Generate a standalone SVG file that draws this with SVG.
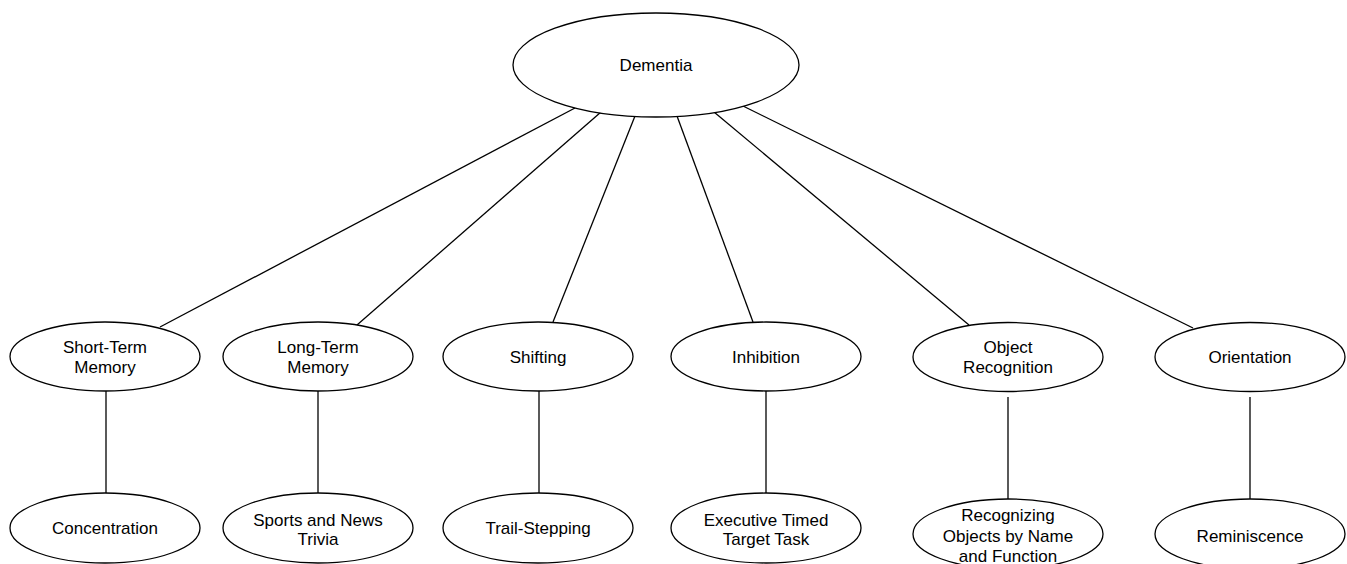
<svg xmlns="http://www.w3.org/2000/svg" width="1347" height="564" viewBox="0 0 1347 564">
<style>
  ellipse { fill: #ffffff; stroke: #000000; stroke-width: 1.3; }
  text { font-family: "Liberation Sans", Arial, sans-serif; font-size: 17px; fill: #000000; text-anchor: middle; }
  .conn line { stroke: #000000; stroke-width: 1.3; }
</style>
<rect x="0" y="0" width="1347" height="564" fill="#ffffff"/>
<g id="connectors" class="conn">
  <line x1="575" y1="108" x2="160" y2="327"/>
  <line x1="601" y1="112" x2="357" y2="325"/>
  <line x1="635" y1="116" x2="553" y2="322"/>
  <line x1="677" y1="116" x2="753" y2="322"/>
  <line x1="714" y1="112" x2="969" y2="325"/>
  <line x1="743" y1="106" x2="1193" y2="328"/>
  <line x1="106" y1="391" x2="106" y2="493"/>
  <line x1="318" y1="391" x2="318" y2="493"/>
  <line x1="539" y1="391" x2="539" y2="493"/>
  <line x1="766" y1="391" x2="766" y2="493"/>
  <line x1="1008" y1="397" x2="1008" y2="499"/>
  <line x1="1250" y1="397" x2="1250" y2="499"/>
</g>
<g id="dementia"><ellipse cx="656" cy="65" rx="143" ry="52"/><text x="656" y="71">Dementia</text></g>
<g id="short-term-memory"><ellipse cx="105" cy="356.5" rx="95" ry="34.5"/><text x="105" y="353">Short-Term</text><text x="105" y="373">Memory</text></g>
<g id="long-term-memory"><ellipse cx="318" cy="356.5" rx="95" ry="34.5"/><text x="318" y="353">Long-Term</text><text x="318" y="373">Memory</text></g>
<g id="shifting"><ellipse cx="538" cy="356.5" rx="95" ry="34.5"/><text x="538" y="363">Shifting</text></g>
<g id="inhibition"><ellipse cx="766" cy="356.5" rx="95" ry="34.5"/><text x="766" y="363">Inhibition</text></g>
<g id="object-recognition"><ellipse cx="1008" cy="357" rx="95" ry="34.5"/><text x="1008" y="353">Object</text><text x="1008" y="373">Recognition</text></g>
<g id="orientation"><ellipse cx="1250" cy="357" rx="95" ry="34.5"/><text x="1250" y="363">Orientation</text></g>
<g id="concentration"><ellipse cx="105" cy="528" rx="95" ry="35"/><text x="105" y="534">Concentration</text></g>
<g id="sports-news-trivia"><ellipse cx="318" cy="528" rx="95" ry="35"/><text x="318" y="526">Sports and News</text><text x="318" y="545">Trivia</text></g>
<g id="trail-stepping"><ellipse cx="538" cy="528" rx="95" ry="35"/><text x="538" y="534">Trail-Stepping</text></g>
<g id="executive-timed-target-task"><ellipse cx="766" cy="528" rx="95" ry="35"/><text x="766" y="526">Executive Timed</text><text x="766" y="545">Target Task</text></g>
<g id="recognizing-objects"><ellipse cx="1008" cy="534" rx="95" ry="35"/><text x="1008" y="521">Recognizing</text><text x="1008" y="542">Objects by Name</text><text x="1008" y="562">and Function</text></g>
<g id="reminiscence"><ellipse cx="1250" cy="534" rx="95" ry="35"/><text x="1250" y="542">Reminiscence</text></g>
</svg>
